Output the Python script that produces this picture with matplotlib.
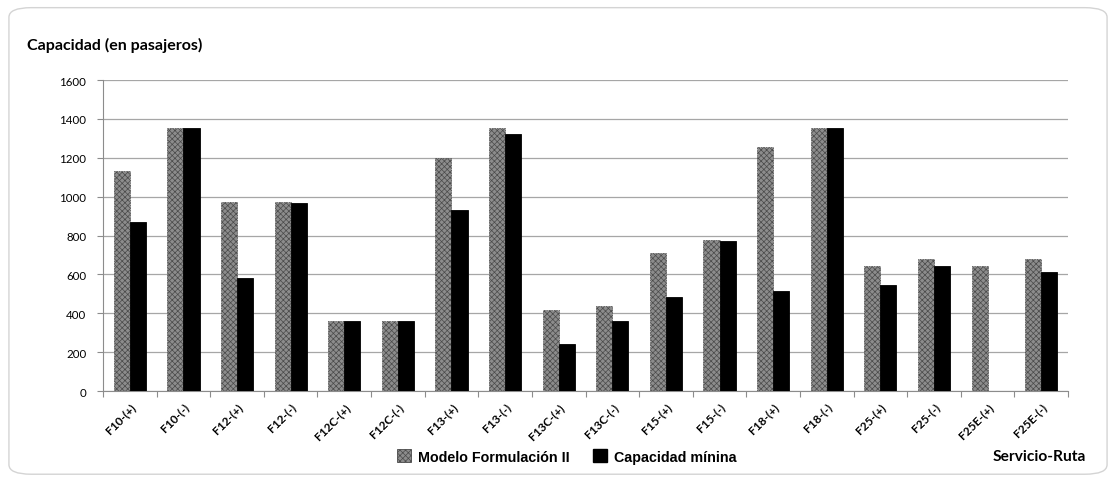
import matplotlib
matplotlib.use("Agg")
import matplotlib.pyplot as plt
import matplotlib.transforms as mtransforms
from matplotlib.patches import FancyBboxPatch, Patch
import numpy as np

categories = ["F10-(+)", "F10-(-)", "F12-(+)", "F12-(-)", "F12C-(+)", "F12C-(-)",
              "F13-(+)", "F13-(-)", "F13C-(+)", "F13C-(-)", "F15-(+)", "F15-(-)",
              "F18-(+)", "F18-(-)", "F25-(+)", "F25-(-)", "F25E-(+)", "F25E-(-)"]
modelo = [1130, 1355, 970, 970, 362, 362, 1198, 1355, 415, 437, 711, 778,
          1257, 1355, 645, 680, 645, 680]
capacidad = [870, 1355, 580, 965, 362, 362, 932, 1320, 242, 362, 485, 773,
             516, 1355, 547, 645, 0, 612]
yticks = [0, 200, 400, 600, 800, 1000, 1200, 1400, 1600]

plt.rcParams["hatch.linewidth"] = 0.5
plt.rcParams["hatch.color"] = "#555555"

fig = plt.figure(figsize=(11.16, 4.81), dpi=100)

# rounded outer frame, drawn beneath the axes
frame = FancyBboxPatch((0.008, 0.012), 0.984, 0.97,
                       boxstyle="round,pad=0,rounding_size=0.02",
                       transform=fig.transFigure, facecolor="white",
                       edgecolor="#d4d4d4", linewidth=1.0, zorder=-5)
fig.patches.append(frame)

ax = fig.add_axes([0.0923, 0.185, 0.8647, 0.6466])
ax.patch.set_alpha(0)
x = np.arange(len(categories))
w = 0.3
ax.bar(x - w / 2, modelo, width=w, color="#8c8c8c", hatch="xxxxxx",
       edgecolor="#4a4a4a", linewidth=0.6, linestyle=(0, (1, 1)), zorder=3)
ax.bar(x + w / 2, capacidad, width=w, color="black", edgecolor="black",
       linewidth=0.6, zorder=3)

ax.set_xlim(-0.5, len(categories) - 0.5)
ax.set_ylim(0, 1600)
ax.set_yticks(yticks)
ax.set_yticklabels([str(v) for v in yticks], fontsize=8.3, family="Lato")
ax.yaxis.grid(True, color="#a6a6a6", linewidth=0.9, zorder=0)
ax.set_axisbelow(True)

ax.set_xticks(np.arange(len(categories) + 1) - 0.5)
ax.set_xticklabels([])
ax.set_xticks(x, minor=True)
ax.set_xticklabels(categories, minor=True, rotation=45, ha="right", va="top",
                   rotation_mode="anchor", fontsize=8.5, family="Lato",
                   fontweight="bold")
shift = mtransforms.ScaledTranslation(5 / 100, 0, fig.dpi_scale_trans)
for lbl in ax.get_xticklabels(minor=True):
    lbl.set_transform(lbl.get_transform() + shift)
ax.tick_params(axis="x", which="minor", length=0, pad=7)
ax.tick_params(axis="x", which="major", length=4, color="#8c8c8c", direction="out")
ax.tick_params(axis="y", length=4, color="#8c8c8c", pad=8)

for s in ["top", "right"]:
    ax.spines[s].set_visible(False)
ax.spines["left"].set_color("#8c8c8c")
ax.spines["bottom"].set_color("#8c8c8c")

fig.text(0.024, 0.905, "Capacidad (en pasajeros)", fontsize=11.5,
         fontweight="bold", family="Lato", ha="left", va="center")

handles = [Patch(facecolor="#8c8c8c", hatch="xxxxxx", edgecolor="#4a4a4a",
                 linewidth=0.6, label="Modelo Formulación II"),
           Patch(facecolor="black", edgecolor="black", label="Capacidad mínina")]
leg = fig.legend(handles=handles, loc="center", bbox_to_anchor=(0.508, 0.049),
                 ncol=2, frameon=False, handlelength=1.0, handleheight=1.0,
                 columnspacing=1.6, handletextpad=0.5,
                 prop={"family": "Liberation Sans", "weight": "bold", "size": 10.3})

fig.text(0.973, 0.049, "Servicio-Ruta", fontsize=11.2, fontweight="bold",
         family="Lato", ha="right", va="center")

fig.savefig("out.png", dpi=100)
